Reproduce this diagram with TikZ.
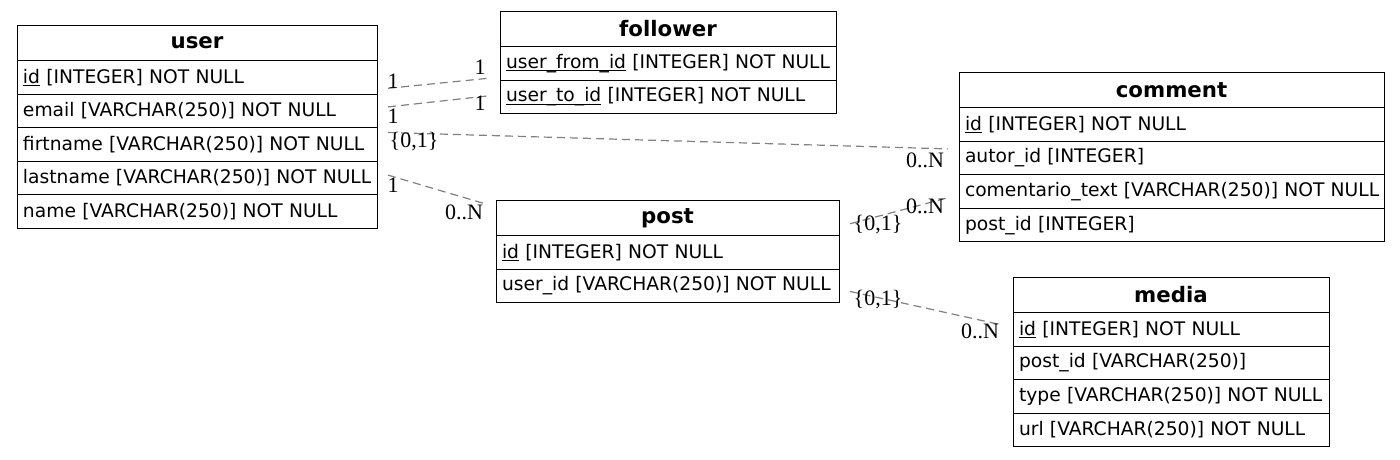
\documentclass[tikz,border=0pt]{standalone}
\usepackage{fontspec}
\usepackage{tikz}
\usetikzlibrary{positioning}

\newfontfamily\tblfont{DejaVu Sans}
\newfontfamily\lblfont{Liberation Serif}
\newcommand{\tblsize}{\fontsize{18.7}{22}\selectfont}
\newcommand{\hdsize}{\fontsize{21.3}{25}\selectfont}
\newcommand{\pkey}[1]{\setbox0\hbox{#1}\rlap{\rule[-2.6pt]{\wd0}{0.7pt}}#1}

\begin{document}
\begin{tikzpicture}[x=1pt, y=1pt,
  every node/.style={
    rectangle,
    outer sep=0pt,
  },
  hd/.style={draw, line width=1pt, inner xsep=6pt, text width=#1, align=center,
    minimum height=35.5pt, font=\tblfont\hdsize\bfseries},
  fd/.style={draw, line width=1pt, inner xsep=6pt, text width=#1, align=left,
    minimum height=33.6pt, font=\tblfont\tblsize,
    execute at begin node=\hbox\bgroup, execute at end node=\egroup},
  lb/.style={inner sep=0pt, font=\lblfont\fontsize{22}{25}\selectfont},
  rel/.style={draw=black!50, line width=1.2pt, dash pattern=on 8pt off 5pt}]

  \useasboundingbox (0,0) rectangle (1400,-459);

  % user
  \node[hd=348pt, anchor=north west] (u0) at (17,-25) {user};
  \node[fd=348pt, below=0pt of u0] (u1) {\pkey{id} [INTEGER] NOT NULL};
  \node[fd=348pt, below=0pt of u1] (u2) {email [VARCHAR(250)] NOT NULL};
  \node[fd=348pt, below=0pt of u2] (u3) {firtname [VARCHAR(250)] NOT NULL};
  \node[fd=348pt, below=0pt of u3] (u4) {lastname [VARCHAR(250)] NOT NULL};
  \node[fd=348pt, below=0pt of u4] (u5) {name [VARCHAR(250)] NOT NULL};

  % follower
  \node[hd=324pt, anchor=north west] (f0) at (500,-11) {follower};
  \node[fd=324pt, below=0pt of f0] (f1) {\pkey{user\_from\_id} [INTEGER] NOT NULL};
  \node[fd=324pt, below=0pt of f1] (f2) {\pkey{user\_to\_id} [INTEGER] NOT NULL};

  % comment
  \node[hd=413pt, anchor=north west] (c0) at (959,-72) {comment};
  \node[fd=413pt, below=0pt of c0] (c1) {\pkey{id} [INTEGER] NOT NULL};
  \node[fd=413pt, below=0pt of c1] (c2) {autor\_id [INTEGER]};
  \node[fd=413pt, below=0pt of c2] (c3) {comentario\_text [VARCHAR(250)] NOT NULL};
  \node[fd=413pt, below=0pt of c3] (c4) {post\_id [INTEGER]};

  % post
  \node[hd=331pt, anchor=north west] (p0) at (496,-200) {post};
  \node[fd=331pt, below=0pt of p0] (p1) {\pkey{id} [INTEGER] NOT NULL};
  \node[fd=331pt, below=0pt of p1] (p2) {user\_id [VARCHAR(250)] NOT NULL};

  % media
  \node[hd=304pt, anchor=north west] (m0) at (1013,-277) {media};
  \node[fd=304pt, below=0pt of m0] (m1) {\pkey{id} [INTEGER] NOT NULL};
  \node[fd=304pt, below=0pt of m1] (m2) {post\_id [VARCHAR(250)]};
  \node[fd=304pt, below=0pt of m2] (m3) {type [VARCHAR(250)] NOT NULL};
  \node[fd=304pt, below=0pt of m3] (m4) {url [VARCHAR(250)] NOT NULL};

  \draw[rel] ([shift={(11,-11)}]u1.east) -- ([shift={(-12,-15)}]f1.west);
  \draw[rel] ([shift={(11,4)}]u2.east) -- ([shift={(-12,1)}]f2.west);
  \draw[rel] ([shift={(11,12)}]u3.east) -- ([shift={(-11,9)}]c2.west);
  \draw[rel] ([shift={(11,3)}]u4.east) -- ([shift={(-11,14)}]p0.west);
  \draw[rel] ([shift={(11,-6)}]p0.east) -- ([shift={(-12,-6.5)}]c3.west);
  \draw[rel] ([shift={(11,-5.5)}]p2.east) -- ([shift={(-14,5)}]m1.west);

  \node[lb] (l1) at (393,-81) {1};
  \node[lb] (l2) at (480,-67) {1};
  \node[lb] (l3) at (393,-116) {1};
  \node[lb] (l4) at (480,-103) {1};
  \node[lb] (l5) at (414,-142) {\{0,1\}};
  \node[lb] (l6) at (925,-160) {0..N};
  \node[lb] (l7) at (393,-185) {1};
  \node[lb] (l8) at (464,-212) {0..N};
  \node[lb] (l9) at (878,-225) {\{0,1\}};
  \node[lb] (l10) at (925,-206) {0..N};
  \node[lb] (l11) at (878,-300) {\{0,1\}};
  \node[lb] (l12) at (980,-331) {0..N};

\end{tikzpicture}
\end{document}
